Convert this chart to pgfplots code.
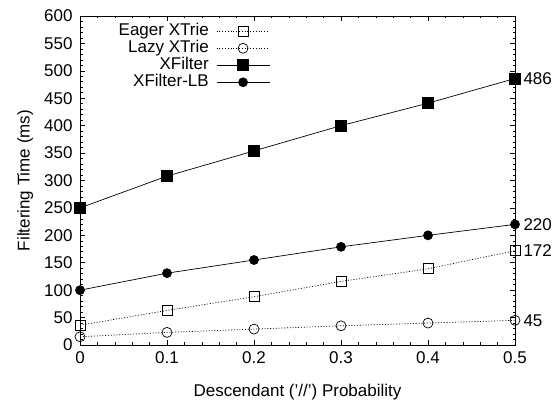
\documentclass[border=0pt]{standalone}
\usepackage{pgfplots}
\pgfplotsset{compat=1.18}
\usepackage{fontspec}
\setmainfont{Liberation Sans}
\newcommand{\ff}{\fontsize{17}{19}\selectfont}
\begin{document}
\begin{tikzpicture}
\begin{axis}[
  name=ax,
  scale only axis,
  width=435pt, height=329pt,
  xmin=0, xmax=0.5, ymin=0, ymax=600,
  xtick={0,0.1,...,0.5},
  xticklabels={0,0.1,0.2,0.3,0.4,0.5},
  ytick={0,50,...,600},
  minor x tick num=4,
  minor y tick num=4,
  tick align=inside,
  major tick length=5pt, minor tick length=2.5pt,
  tick style={black, line width=0.6pt},
  axis line style={line width=0.8pt},
  every tick label/.append style={font=\ff},
  xticklabel style={yshift=-3pt},
  yticklabel style={xshift=-4pt},
  /pgf/number format/assume math mode=true,
  xlabel={Descendant ('//') Probability},
  ylabel={Filtering Time (ms)},
  label style={font=\ff},
  xlabel style={at={(0.5,0)}, anchor=center, yshift=-47pt},
  ylabel style={yshift=4pt},
  clip=false,
  legend cell align=right,
  legend plot pos=right,
  legend style={draw=none, fill=none, at={(0.437,0.98)}, anchor=north east,
    font=\ff, row sep=0pt, column sep=7pt, inner sep=0pt,
    nodes={text height=12pt, text depth=4pt, inner sep=0.5pt}},
  legend image code/.code={\draw[mark repeat=2,mark phase=2] plot coordinates {(0cm,0cm)(0.93cm,0cm)(1.86cm,0cm)};},
]
\addplot[black, line width=0.7pt, dash pattern=on 1pt off 1.8pt, mark=square, mark size=5pt, mark options={solid, line width=0.7pt, fill=white}]
  coordinates {(0,36) (0.1,63) (0.2,88) (0.3,116) (0.4,139) (0.5,172)};
\addlegendentry{Eager XTrie}
\addplot[black, line width=0.7pt, dash pattern=on 1pt off 1.8pt, mark=o, mark size=5pt, mark options={solid, line width=0.7pt, fill=white}]
  coordinates {(0,15) (0.1,23) (0.2,29) (0.3,35) (0.4,40) (0.5,45)};
\addlegendentry{Lazy XTrie}
\addplot[black, line width=0.7pt, mark=square*, mark size=5.5pt]
  coordinates {(0,250) (0.1,308) (0.2,354) (0.3,400) (0.4,441) (0.5,486)};
\addlegendentry{XFilter}
\addplot[black, line width=0.7pt, mark=*, mark size=4.5pt]
  coordinates {(0,100) (0.1,131) (0.2,155) (0.3,179) (0.4,200) (0.5,220)};
\addlegendentry{XFilter-LB}
\node[anchor=west, font=\ff, xshift=5pt] at (axis cs:0.5,486) {486};
\node[anchor=west, font=\ff, xshift=5pt] at (axis cs:0.5,220) {220};
\node[anchor=west, font=\ff, xshift=5pt] at (axis cs:0.5,172) {172};
\node[anchor=west, font=\ff, xshift=5pt] at (axis cs:0.5,45) {45};
\end{axis}
\pgfresetboundingbox
\path ([xshift=-80pt,yshift=-56pt]ax.south west) rectangle ([xshift=41pt,yshift=16pt]ax.north east);
\end{tikzpicture}
\end{document}
